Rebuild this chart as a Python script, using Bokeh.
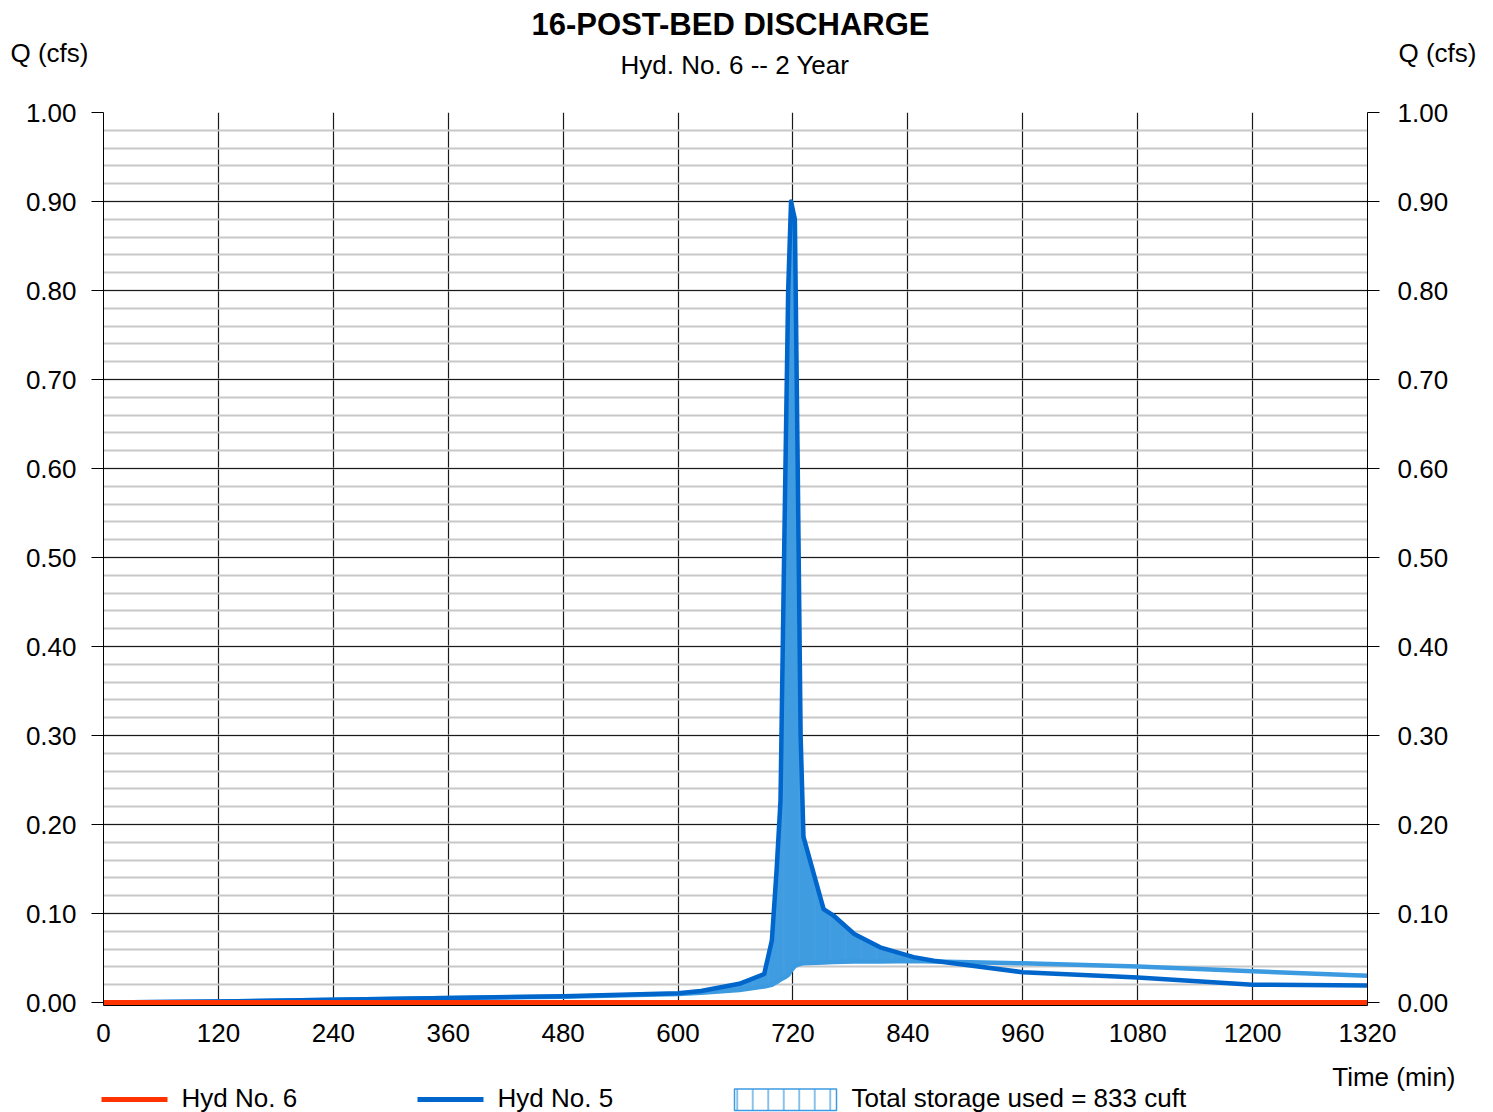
import numpy as np
from bokeh.plotting import figure
from bokeh.layouts import column
from bokeh.models import Range1d, LinearAxis, SingleIntervalTicker, NumeralTickFormatter
from bokeh.core.properties import value
from bokeh.embed import file_html
from bokeh.resources import INLINE

# Hydrograph ordinates (time in minutes, flow in cfs)
time_min = [0, 120, 240, 360, 480, 600, 624, 664, 690, 698, 703, 707, 711, 715, 718, 722,
            725, 728, 731, 752, 762, 784, 811, 846, 867, 960, 1080, 1200, 1320]
hyd5_inflow = [0.0, 0.001, 0.003, 0.005, 0.007, 0.0105, 0.013, 0.021, 0.032, 0.07, 0.15, 0.227,
               0.52, 0.80, 0.90, 0.88, 0.60, 0.30, 0.186, 0.105, 0.098, 0.077, 0.062, 0.051,
               0.047, 0.034, 0.028, 0.020, 0.019]
storage_base = [0.0, 0.001, 0.003, 0.005, 0.0065, 0.0095, 0.011, 0.014, 0.018, 0.020, 0.023,
                0.026, 0.028, 0.031, 0.036, 0.041, 0.0425, 0.0435, 0.044, 0.045, 0.0455, 0.046,
                0.046, 0.0465, 0.046, 0.044, 0.0405, 0.035, 0.030]
hyd6_outflow = [0.0] * len(time_min)

x_ticks_step = 120
y_ticks_step = 0.1

title_text = "16-POST-BED DISCHARGE"
subtitle_text = "Hyd. No. 6 -- 2 Year"
y_caption = "Q (cfs)"
x_caption = "Time (min)"
legend_labels = ["Hyd No. 6", "Hyd No. 5", "Total storage used = 833 cuft"]

FONT = "Liberation Sans"
RED = "#ff3300"
DARK_BLUE = "#0066cc"
LIGHT_BLUE = "#3c9ae0"
FILL_BLUE = "#409ce0"

W = 1493
HEAD_H, MAIN_H, FOOT_H = 85, 975, 52
XMAX, YMAX = 1320, 1.0
Y0 = -3.0 / 890  # a little room below zero so the zero-flow line shows at full width

TEXT_STYLE = dict(text_font=value(FONT), text_baseline="middle", text_color="black")


def blank(height, y_top):
    """Axis-less strip whose data units are page pixels (y grows downward)."""
    f = figure(width=W, height=height, output_backend="svg", toolbar_location=None,
               title=None, x_range=Range1d(0, W), y_range=Range1d(y_top + height, y_top),
               x_axis_type=None, y_axis_type=None, min_border=0, frame_align=False,
               outline_line_color=None, background_fill_color="white",
               border_fill_color="white")
    f.grid.visible = False
    return f


# ---- header: title, subtitle and the two axis captions
head = blank(HEAD_H, 0)
head.text(x=[730], y=[24], text=[title_text], text_font_size="31px", text_font_style="bold",
          text_align="center", **TEXT_STYLE)
head.text(x=[734.5], y=[64.5], text=[subtitle_text], text_font_size="26px",
          text_align="center", **TEXT_STYLE)
head.text(x=[10, 1398], y=[52.5, 52.5], text=[y_caption, y_caption], text_font_size="26px",
          text_align="left", **TEXT_STYLE)

# ---- main chart
p = figure(width=W, height=MAIN_H, output_backend="svg", toolbar_location=None, title=None,
           x_range=Range1d(0, XMAX), y_range=Range1d(Y0, YMAX),
           min_border_left=103, min_border_right=W - 1367,
           min_border_top=112 - HEAD_H, min_border_bottom=MAIN_H - (112 - HEAD_H) - 893,
           frame_align=False,
           background_fill_color="white", border_fill_color="white",
           outline_line_color=None)

p.xaxis.ticker = SingleIntervalTicker(interval=x_ticks_step, num_minor_ticks=0)
p.yaxis.ticker = SingleIntervalTicker(interval=y_ticks_step, num_minor_ticks=5)
p.yaxis.formatter = NumeralTickFormatter(format="0.00")
right_axis = LinearAxis(ticker=SingleIntervalTicker(interval=y_ticks_step, num_minor_ticks=5),
                        formatter=NumeralTickFormatter(format="0.00"))
p.add_layout(right_axis, "right")

for ax in p.yaxis:
    ax.major_tick_out = 12
    ax.major_tick_in = 0
    ax.minor_tick_out = 0
    ax.minor_tick_in = 0
    ax.major_label_standoff = 15
for ax in p.axis:
    ax.axis_line_color = "black"
    ax.axis_line_width = 1
    ax.major_tick_line_color = "black"
    ax.major_label_text_font = FONT
    ax.major_label_text_font_size = "26px"
    ax.major_label_text_color = "black"
p.xaxis.major_tick_out = 0
p.xaxis.major_tick_in = 0
p.xaxis.minor_tick_out = 0
p.xaxis.major_label_standoff = 18
right_axis.major_label_standoff = 18

p.xgrid.grid_line_color = "#1a1a1a"
p.xgrid.grid_line_width = 1.2
p.ygrid.grid_line_color = "#1a1a1a"
p.ygrid.grid_line_width = 1.2
p.ygrid.minor_grid_line_color = "#c8c8c8"
p.ygrid.minor_grid_line_width = 2

# storage volume between the inflow and the storage base curve
upper = np.maximum(np.array(hyd5_inflow), np.array(storage_base))
p.varea(x=time_min, y1=storage_base, y2=upper, fill_color=FILL_BLUE,
        hatch_pattern="|", hatch_color="#5aaae6", hatch_scale=15.5, hatch_alpha=0.3,
        hatch_weight=1)
p.line(time_min, storage_base, line_color=LIGHT_BLUE, line_width=4.5, line_join="round")
p.line(time_min, hyd5_inflow, line_color=DARK_BLUE, line_width=4.5, line_join="round")
p.line(time_min, hyd6_outflow, line_color=RED, line_width=5)

# ---- footer: x caption and legend row
foot_top = HEAD_H + MAIN_H
foot = blank(FOOT_H, foot_top)
foot.text(x=[1455], y=[1076], text=[x_caption], text_font_size="26px", text_align="right",
          **TEXT_STYLE)
foot.segment(x0=[101, 417], y0=[1099, 1099], x1=[167, 483], y1=[1099, 1099],
             line_color=[RED, DARK_BLUE], line_width=5)
foot.quad(left=[734], right=[836], top=[1088.5], bottom=[1110], fill_color="white",
          line_color=LIGHT_BLUE, line_width=1.5, hatch_pattern="|", hatch_color=LIGHT_BLUE,
          hatch_scale=15.5, hatch_weight=1.2)
foot.text(x=[181, 497, 851], y=[1097.5] * 3, text=legend_labels, text_font_size="26px",
          text_align="left", **TEXT_STYLE)

layout = column(head, p, foot, spacing=0)
open("out.html", "w").write(file_html(layout, INLINE))
